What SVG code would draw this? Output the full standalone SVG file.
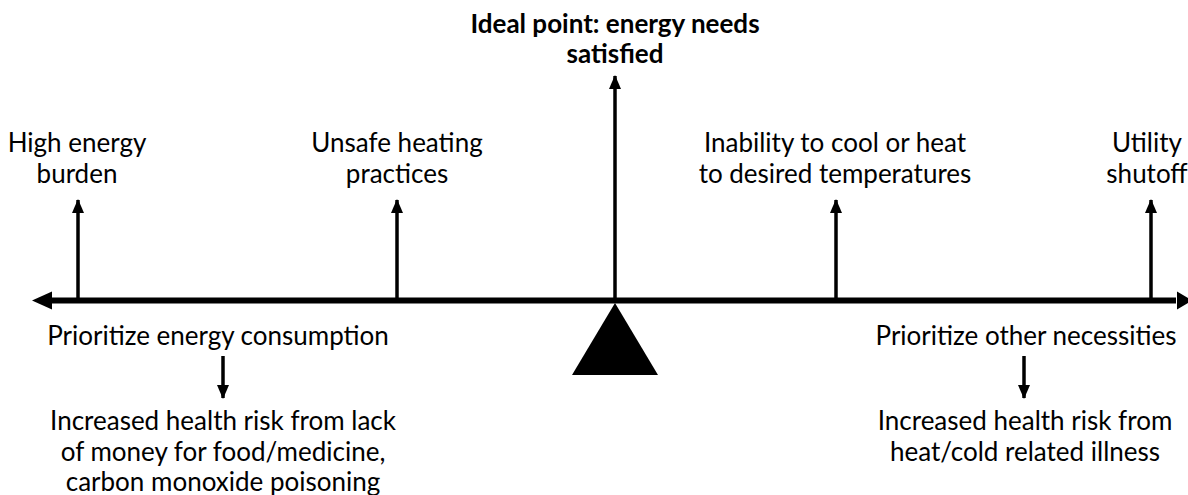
<svg xmlns="http://www.w3.org/2000/svg" width="1188" height="495" viewBox="0 0 1188 495">
<style>
text{font-family:Lato,"Liberation Sans",sans-serif;font-size:26px;fill:#000;text-anchor:middle}
.b{font-weight:bold}
.s{stroke:#000;stroke-width:3.5;fill:none}
.m{stroke:#000;stroke-width:6;fill:none}
</style>
<defs>
<marker id="ah" markerUnits="userSpaceOnUse" markerWidth="14" markerHeight="14" viewBox="0 0 14 14" refX="13" refY="7" orient="auto"><path d="M0,1 L14,7 L0,13 Z" fill="#000"/></marker>
</defs>
<g id="connectors">
<line class="m" x1="50" y1="300.5" x2="1176" y2="300.5"/>
<path d="M32,300.5 L52,291.5 L52,309.5 Z" fill="#000"/>
<path d="M1192,300.5 L1177,291.5 L1177,309.5 Z" fill="#000"/>
<line class="s" x1="78" y1="300" x2="78" y2="200" marker-end="url(#ah)"/>
<line class="s" x1="397" y1="300" x2="397" y2="200" marker-end="url(#ah)"/>
<line class="s" x1="836" y1="300" x2="836" y2="200" marker-end="url(#ah)"/>
<line class="s" x1="1151" y1="300" x2="1151" y2="200" marker-end="url(#ah)"/>
<line class="s" x1="615" y1="300" x2="615" y2="76" marker-end="url(#ah)"/>
<line class="s" x1="223" y1="356" x2="223" y2="398" marker-end="url(#ah)"/>
<line class="s" x1="1024" y1="356" x2="1024" y2="398" marker-end="url(#ah)"/>
</g>
<g id="fulcrum"><path d="M615,303 L658,375 L572,375 Z" fill="#000"/></g>
<g id="ideal"><text class="b" x="615" y="33">Ideal point: energy needs</text><text class="b" x="615" y="63">satisfied</text></g>
<g id="high-burden"><text x="77" y="152">High energy</text><text x="77" y="183">burden</text></g>
<g id="unsafe"><text x="397" y="152">Unsafe heating</text><text x="397" y="183">practices</text></g>
<g id="inability"><text x="835" y="152">Inability to cool or heat</text><text x="835" y="183">to desired temperatures</text></g>
<g id="shutoff"><text x="1147" y="152">Utility</text><text x="1147" y="183">shutoff</text></g>
<g id="prio-energy"><text x="218" y="345">Prioritize energy consumption</text></g>
<g id="prio-other"><text x="1026" y="345">Prioritize other necessities</text></g>
<g id="risk-left"><text x="223" y="430">Increased health risk from lack</text><text x="223" y="461">of money for food/medicine,</text><text x="223" y="491">carbon monoxide poisoning</text></g>
<g id="risk-right"><text x="1025" y="430">Increased health risk from</text><text x="1025" y="461">heat/cold related illness</text></g>
</svg>
